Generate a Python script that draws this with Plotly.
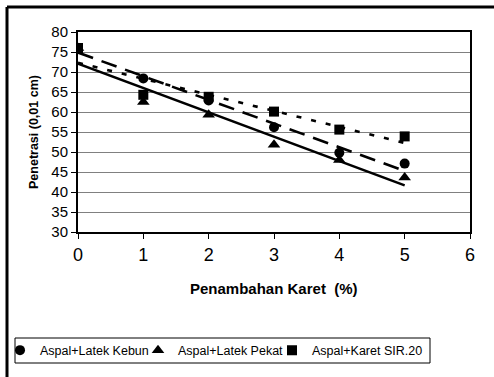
import numpy as np
import plotly.graph_objects as go

x_vals = [0, 1, 2, 3, 4, 5]
kebun = [76, 68.4, 62.9, 56.2, 49.8, 47.1]
pekat = [76, 62.5, 59.3, 51.8, 48.0, 43.6]
sir20 = [76, 64.3, 63.8, 60.1, 55.6, 53.9]
names = ["Aspal+Latek Kebun", "Aspal+Latek Pekat", "Aspal+Karet SIR.20"]
symbols = ["circle", "triangle-up", "square"]
marker_sizes = [10, 11, 10]
dashes = ["16px,9px", "solid", "5px,10px"]
legend_ids = ["legend", "legend2", "legend3"]

FONT = "Arial, Liberation Sans, sans-serif"
W, H = 494, 377
ML, MR, MT, MB = 78, 24, 32, 145
PW, PH = W - ML - MR, H - MT - MB


def px_x(p):
    return (p - ML) / PW


def px_y(p):
    return (H - MB - p) / PH


fig = go.Figure()

for ys, dsh in zip([kebun, pekat, sir20], dashes):
    m, c = np.polyfit(x_vals, ys, 1)
    xt = [x_vals[0], x_vals[-1]]
    fig.add_trace(go.Scatter(x=xt, y=[m * v + c for v in xt], mode="lines",
                             line=dict(color="black", width=2.6, dash=dsh),
                             showlegend=False, hoverinfo="skip"))

for ys, name, sym, ms, lg in zip([kebun, pekat, sir20], names, symbols, marker_sizes, legend_ids):
    fig.add_trace(go.Scatter(x=x_vals, y=ys, mode="markers", name=name, legend=lg,
                             marker=dict(symbol=sym, size=ms, color="black")))

legend_lefts = [0, 138, 272]
leg_common = dict(orientation="h", yanchor="middle", xanchor="left",
                  borderwidth=0, font=dict(size=12.5, family=FONT), itemwidth=30,
                  bgcolor="rgba(0,0,0,0)")
layout_legends = {}
for lg, lx in zip(legend_ids, legend_lefts):
    layout_legends[lg] = dict(x=px_x(lx), y=px_y(350.5), **leg_common)

fig.update_layout(
    width=W, height=H,
    margin=dict(l=ML, r=MR, t=MT, b=MB, autoexpand=False),
    paper_bgcolor="white", plot_bgcolor="white",
    font=dict(family=FONT, color="black"),
    showlegend=True,
    **layout_legends,
    xaxis=dict(range=[0, 6], tickvals=[0, 1, 2, 3, 4, 5, 6], showgrid=False, zeroline=False,
               showline=True, linecolor="black", linewidth=2, mirror=True,
               ticks="outside", ticklen=5, tickcolor="black", tickwidth=1,
               tickfont=dict(size=18, family=FONT)),
    yaxis=dict(range=[30, 80], tickvals=list(range(30, 81, 5)), showgrid=True,
               gridcolor="#808080", gridwidth=1, zeroline=False,
               showline=True, linecolor="black", linewidth=2, mirror=True,
               ticks="outside", ticklen=5, tickcolor="black", tickwidth=1,
               tickfont=dict(size=15, family=FONT)),
    annotations=[
        dict(text="<b>Penambahan Karet  (%)</b>", xref="paper", yref="paper",
             x=0.5, y=px_y(288), showarrow=False, font=dict(size=15, family=FONT),
             xanchor="center", yanchor="middle"),
        dict(text="<b>Penetrasi (0,01 cm)</b>", xref="paper", yref="paper",
             x=px_x(34), y=0.5, showarrow=False, textangle=-90,
             font=dict(size=12.5, family=FONT), xanchor="center", yanchor="middle"),
    ],
    shapes=[
        dict(type="line", xref="paper", yref="paper", x0=px_x(7), x1=px_x(500),
             y0=px_y(7), y1=px_y(7), line=dict(color="black", width=3)),
        dict(type="line", xref="paper", yref="paper", x0=px_x(7), x1=px_x(7),
             y0=px_y(7), y1=px_y(385), line=dict(color="black", width=3)),
        dict(type="rect", xref="paper", yref="paper", x0=px_x(15), x1=px_x(430),
             y0=px_y(338), y1=px_y(363), line=dict(color="black", width=1)),
    ],
)

fig.write_html("out.html")
